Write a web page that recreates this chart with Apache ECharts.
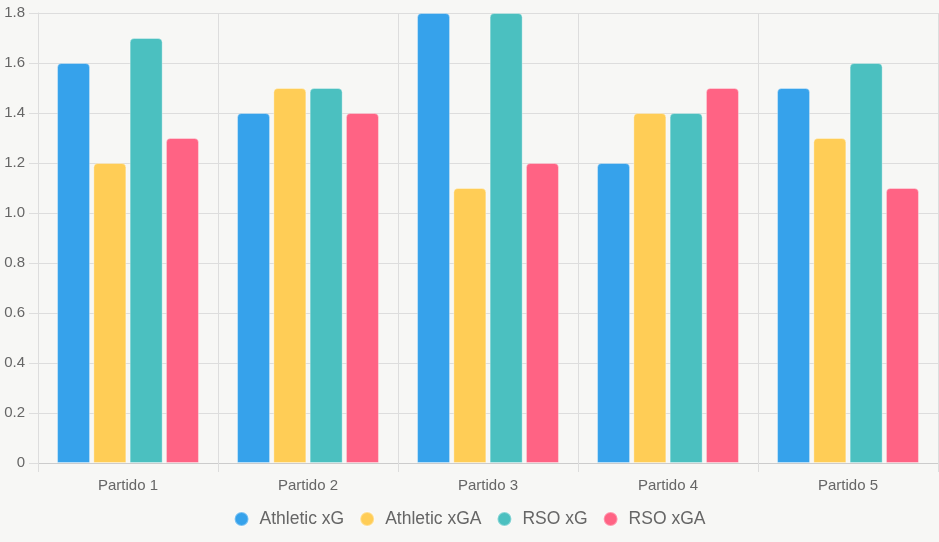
<!DOCTYPE html>
<html>
<head>
<meta charset="utf-8">
<script src="https://cdn.jsdelivr.net/npm/echarts@6/dist/echarts.min.js"></script>
<style>
html,body{margin:0;padding:0;background:#f7f7f5;}
#chart{width:939px;height:542px;}
</style>
</head>
<body>
<div id="chart"></div>
<script>
// partidos
var categories = ['Partido 1', 'Partido 2', 'Partido 3', 'Partido 4', 'Partido 5'];
var athleticXG = [1.6, 1.4, 1.8, 1.2, 1.5];
var athleticXGA = [1.2, 1.5, 1.1, 1.4, 1.3];
var rsoXG = [1.7, 1.5, 1.8, 1.4, 1.6];
var rsoXGA = [1.3, 1.4, 1.2, 1.5, 1.1];

var colors = ['#36A2EB', '#FFCD56', '#4BC0C0', '#FF6384'];
var fontFam = 'Liberation Sans, Arial, sans-serif';

function barSerie(name, data, color){
    return {
        name: name,
        type: 'bar',
        data: data,
        barWidth: 33,
        barGap: '10%',
        itemStyle: {
            color: color,
            borderColor: 'rgba(255,255,255,0.35)',
            borderWidth: 1,
            borderRadius: [4, 4, 0, 0]
        }
    };
}

var chart = echarts.init(document.getElementById('chart'));
chart.setOption({
    animation: false,
    backgroundColor: '#f7f7f5',
    color: colors,
    grid: {left: 38, right: 1, top: 13, bottom: 79, containLabel: false},
    legend: {
        bottom: 9,
        left: 'center',
        icon: 'circle',
        itemWidth: 14,
        itemHeight: 14,
        itemGap: 15,
        textStyle: {fontSize: 17.5, color: '#666', fontFamily: fontFam, padding: [0, 0, 0, 6]},
        data: ['Athletic xG', 'Athletic xGA', 'RSO xG', 'RSO xGA']
    },
    xAxis: {
        type: 'category',
        data: categories,
        boundaryGap: true,
        axisLine: {show: true, lineStyle: {color: '#ccc'}},
        axisTick: {show: true, length: 9, lineStyle: {color: '#ddd'}},
        splitLine: {show: true, lineStyle: {color: '#ddd'}},
        axisLabel: {fontSize: 15, color: '#666', margin: 15, fontFamily: fontFam}
    },
    yAxis: {
        type: 'value',
        min: 0,
        max: 1.8,
        interval: 0.2,
        axisLine: {show: true, lineStyle: {color: '#ddd'}},
        axisTick: {show: true, length: 9, lineStyle: {color: '#ddd'}},
        splitLine: {show: true, lineStyle: {color: '#ddd'}},
        axisLabel: {
            fontSize: 15, color: '#666', margin: 13,
            fontFamily: fontFam,
            formatter: function(v){ return v === 0 ? '0' : v.toFixed(1); }
        }
    },
    series: [
        barSerie('Athletic xG', athleticXG, colors[0]),
        barSerie('Athletic xGA', athleticXGA, colors[1]),
        barSerie('RSO xG', rsoXG, colors[2]),
        barSerie('RSO xGA', rsoXGA, colors[3])
    ]
});
</script>
</body>
</html>
